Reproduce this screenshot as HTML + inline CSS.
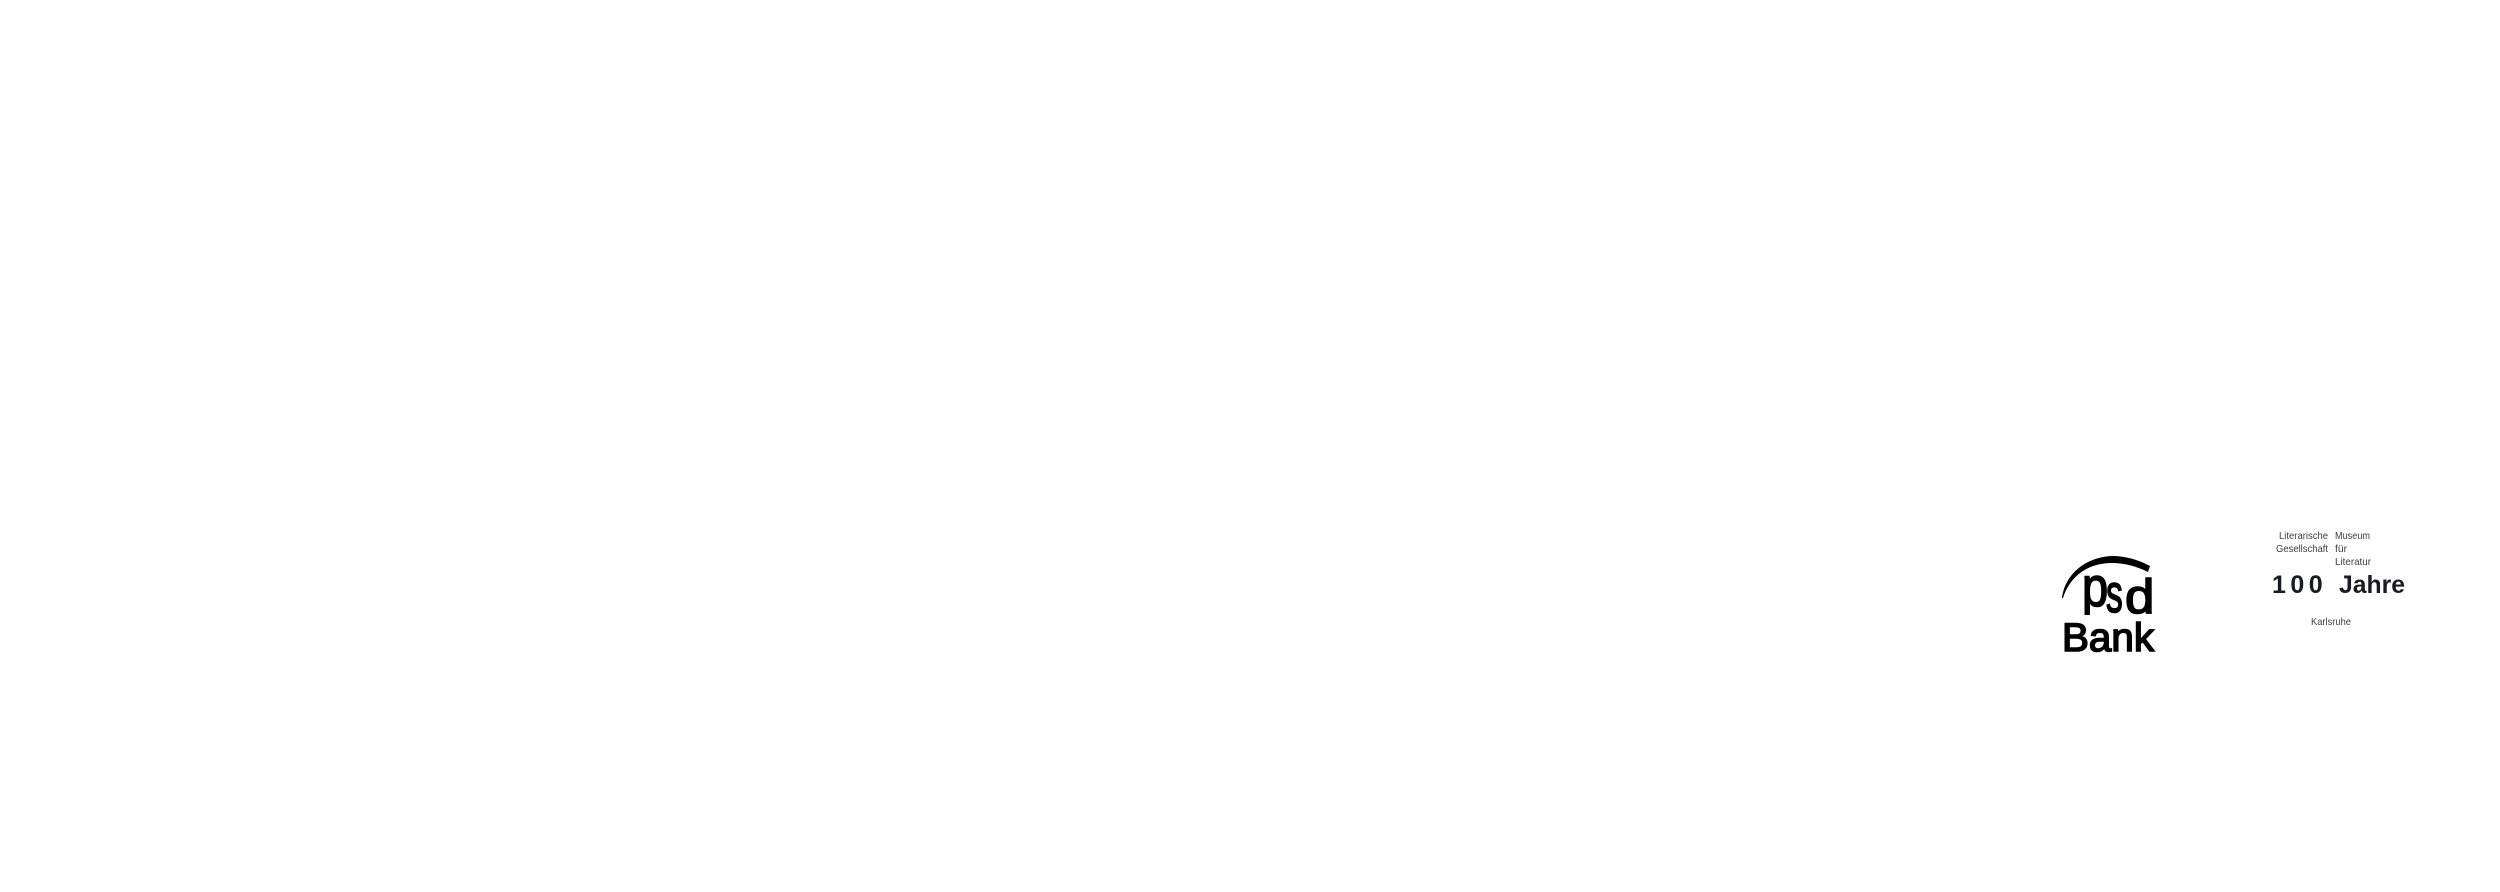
<!DOCTYPE html>
<html lang="de">
<head>
<meta charset="utf-8">
<title>PSD Bank und Literarische Gesellschaft</title>
<style>
html,body{margin:0;padding:0;background:#fff;width:2500px;height:892px;overflow:hidden}
svg{display:block}
text{font-family:"Liberation Sans",sans-serif}
.s{font-size:10.5px;fill:#3c3c42}
.b{font-size:25px;font-weight:700;fill:#1a1a22}
</style>
</head>
<body>
<svg width="2500" height="892" viewBox="0 0 2500 892" xmlns="http://www.w3.org/2000/svg">
<defs><clipPath id="c"><rect x="2060" y="570" width="100" height="45"/></clipPath></defs>
<rect width="2500" height="892" fill="#fff"/>
<path d="M2062 598C2065 574 2086 557 2112 556C2126 556 2139 560 2150 566L2148 572C2136 566 2124 563 2112 563C2088 563 2070 576 2063 598Z" fill="#000"/>
<g clip-path="url(#c)" fill="#000" stroke="#000" stroke-width="1.6">
<text x="2082" y="606" font-size="56" transform="translate(2082 0) scale(.84 1) translate(-2082 0)">p</text>
<text x="2106" y="612" font-size="54" transform="translate(2106 0) scale(.62 1) translate(-2106 0)">s</text>
<text x="2125" y="613" font-size="48" transform="translate(2125 0) scale(1.1 1) translate(-2125 0)">d</text>
</g>
<text x="2062" y="651" font-size="40" textLength="92" lengthAdjust="spacingAndGlyphs" fill="#000" stroke="#000" stroke-width="1.6">Bank</text>
<text class="s" x="2279" y="539" textLength="49" lengthAdjust="spacingAndGlyphs">Literarische</text>
<text class="s" x="2276" y="552" textLength="52" lengthAdjust="spacingAndGlyphs">Gesellschaft</text>
<text class="s" x="2335" y="539" textLength="35" lengthAdjust="spacingAndGlyphs">Museum</text>
<text class="s" x="2335" y="552" textLength="12" lengthAdjust="spacingAndGlyphs">für</text>
<text class="s" x="2335" y="565" textLength="36" lengthAdjust="spacingAndGlyphs">Literatur</text>
<text class="b" x="2272" y="593" letter-spacing="4.5">100</text>
<text class="b" x="2339" y="593" textLength="66" lengthAdjust="spacingAndGlyphs">Jahre</text>
<text class="s" x="2311" y="625" textLength="40" lengthAdjust="spacingAndGlyphs">Karlsruhe</text>
</svg>
</body>
</html>
